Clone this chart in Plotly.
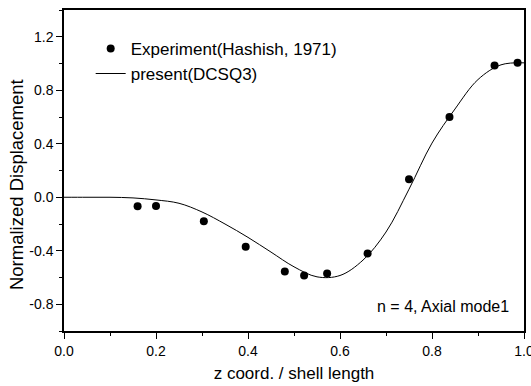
import plotly.graph_objects as go

exp_x = [0.16, 0.20, 0.304, 0.395, 0.48, 0.522, 0.572, 0.66, 0.75, 0.838, 0.936, 0.986]
exp_y = [-0.068, -0.066, -0.18, -0.37, -0.555, -0.585, -0.57, -0.42, 0.135, 0.60, 0.985, 1.005]

cur_x = [0.0, 0.05, 0.10, 0.15, 0.20, 0.25, 0.30, 0.35, 0.40, 0.45, 0.50, 0.55,
         0.60, 0.65, 0.70, 0.75, 0.80, 0.85, 0.90, 0.95, 1.0]
cur_y = [0.0, 0.0, 0.0, -0.005, -0.02, -0.045, -0.11, -0.20, -0.30, -0.41, -0.52, -0.595,
         -0.585, -0.47, -0.26, 0.06, 0.405, 0.66, 0.88, 0.99, 1.005]

x_ticks = [0.0, 0.2, 0.4, 0.6, 0.8, 1.0]
x_labels = ["0.0", "0.2", "0.4", "0.6", "0.8", "1.0"]
y_ticks = [-0.8, -0.4, 0.0, 0.4, 0.8, 1.2]
y_labels = ["-0.8", "-0.4", "0.0", "0.4", "0.8", "1.2"]

font = "Liberation Sans, Arial, sans-serif"

fig = go.Figure()
fig.add_trace(go.Scatter(x=exp_x, y=exp_y, mode="markers", name="Experiment(Hashish, 1971)",
                         marker=dict(color="black", size=8)))
fig.add_trace(go.Scatter(x=cur_x, y=cur_y, mode="lines", name="present(DCSQ3)",
                         line=dict(color="black", width=1, shape="spline", smoothing=1.0)))

axis_common = dict(showline=True, linecolor="black", linewidth=1.5, mirror=True,
                   showgrid=False, zeroline=False, ticks="outside", ticklen=6,
                   tickwidth=1, tickcolor="black", automargin=False,
                   ticklabeloverflow="allow",
                   tickfont=dict(family=font, size=14, color="black"))

fig.update_xaxes(range=[0, 1.0], tickvals=x_ticks, ticktext=x_labels,
                 minor=dict(dtick=0.1, ticks="outside", ticklen=3, tickcolor="black"),
                 title=dict(text="z coord. / shell length", font=dict(family=font, size=17, color="black"),
                            standoff=10),
                 **axis_common)
fig.update_yaxes(range=[-1.0, 1.4], tickvals=y_ticks, ticktext=y_labels,
                 minor=dict(dtick=0.2, ticks="outside", ticklen=3, tickcolor="black"),
                 **axis_common)

# y-axis title placed as rotated text
fig.add_annotation(x=-0.102, y=0.455, xref="paper", yref="paper", xanchor="center", yanchor="middle",
                   text="Normalized Displacement", textangle=-90, showarrow=False,
                   font=dict(family=font, size=18.5, color="black"))

fig.add_annotation(x=0.972, y=-0.82, xref="x", yref="y", xanchor="right", yanchor="middle",
                   text="n = 4, Axial mode1", showarrow=False,
                   font=dict(family=font, size=16, color="black"))

fig.update_layout(width=531, height=386, margin=dict(l=64, r=7, t=10, b=55),
                  paper_bgcolor="white", plot_bgcolor="white",
                  font=dict(family=font, color="black"),
                  legend=dict(x=0.058, y=0.935, xanchor="left", yanchor="top",
                              bgcolor="rgba(0,0,0,0)", font=dict(family=font, size=17, color="black"),
                              tracegroupgap=0, itemwidth=30),
                  showlegend=True)

fig.write_html("out.html")
